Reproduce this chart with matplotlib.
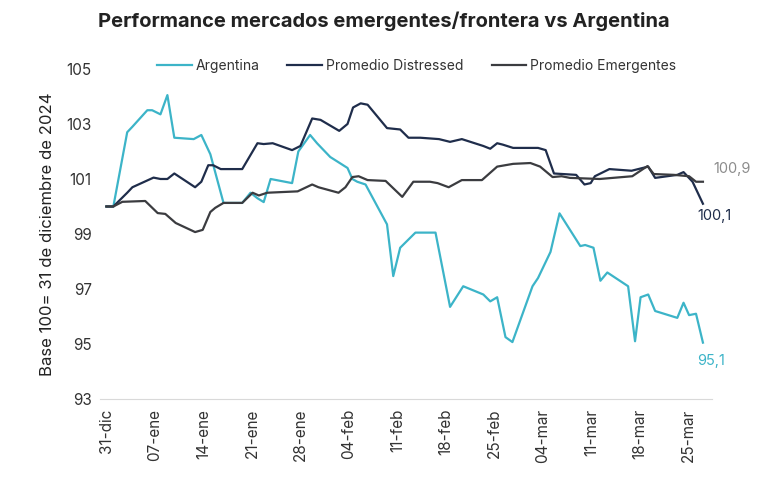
#performance chart: emergentes/frontera vs argentina

import matplotlib
matplotlib.use("Agg")
import matplotlib.pyplot as plt

plt.rcParams['font.family'] = ['Inter', 'DejaVu Sans']

# x = days since 31-dic-2024
arg_days = [0, 1.0, 3.0, 3.75, 5.9, 6.6, 7.8, 8.8, 9.8, 12.6, 13.7, 15.0, 16.9, 19.6, 20.8, 21.8,
            22.7, 23.7, 26.8, 27.7, 29.4, 30.4, 32.3, 34.8, 35.5, 36.2, 37.4, 40.5, 41.4, 42.4,
            44.6, 47.5, 49.6, 51.5, 54.4, 55.4, 56.4, 57.6, 58.6, 61.5, 62.3, 64.1, 65.4, 68.4,
            69.1, 70.3, 71.3, 72.3, 75.3, 76.3, 77.1, 78.2, 79.2, 82.4, 83.3, 84.1, 85.1, 86.1]
arg_vals = [100.0, 100.0, 102.7, 102.9, 103.5, 103.5, 103.35, 104.05, 102.5, 102.45, 102.6, 101.9,
            100.13, 100.13, 100.5, 100.3, 100.16, 101.0, 100.85, 102.0, 102.6, 102.3, 101.8, 101.4,
            101.0, 100.9, 100.8, 99.35, 97.47, 98.5, 99.05, 99.05, 96.35, 97.1, 96.8, 96.55, 96.7,
            95.25, 95.07, 97.1, 97.4, 98.35, 99.75, 98.56, 98.6, 98.5, 97.3, 97.6, 97.1, 95.1,
            96.7, 96.8, 96.2, 95.95, 96.5, 96.05, 96.1, 95.05]

dis_days = [0, 1.0, 3.0, 3.75, 6.8, 7.8, 8.8, 9.8, 12.8, 13.7, 14.7, 15.4, 16.5, 19.6, 21.8, 22.7,
            24.0, 26.8, 28.0, 29.7, 30.9, 33.6, 34.8, 35.6, 36.7, 37.7, 40.5, 42.4, 43.6, 45.3,
            48.0, 49.6, 51.3, 54.4, 55.4, 56.4, 57.2, 58.7, 62.3, 63.4, 64.6, 67.8, 69.0, 69.9,
            70.5, 72.6, 75.8, 78.2, 79.2, 82.4, 83.3, 84.6, 86.1]
dis_vals = [100.0, 100.0, 100.5, 100.7, 101.05, 101.0, 101.0, 101.2, 100.7, 100.9, 101.5, 101.5,
            101.36, 101.36, 102.3, 102.27, 102.3, 102.05, 102.2, 103.2, 103.15, 102.75, 103.0,
            103.6, 103.75, 103.7, 102.85, 102.8, 102.5, 102.5, 102.45, 102.35, 102.45, 102.2,
            102.1, 102.3, 102.25, 102.13, 102.13, 102.05, 101.2, 101.15, 100.8, 100.85, 101.1,
            101.36, 101.3, 101.45, 101.04, 101.15, 101.25, 100.9, 100.1]

eme_days = [0, 1.0, 2.3, 5.6, 7.4, 8.5, 10.0, 12.8, 13.9, 15.0, 15.7, 16.9, 19.6, 21.1, 22.0, 23.2,
            27.6, 29.7, 30.6, 33.5, 34.5, 35.5, 36.4, 37.7, 40.3, 42.7, 44.3, 46.7, 47.8, 49.4,
            51.3, 54.2, 56.4, 58.7, 61.2, 62.6, 64.4, 65.7, 66.9, 71.2, 75.9, 78.1, 79.0, 81.9,
            84.1, 85.1, 86.1]
eme_vals = [100.0, 100.0, 100.17, 100.2, 99.76, 99.73, 99.4, 99.07, 99.15, 99.8, 99.95, 100.13,
            100.13, 100.5, 100.4, 100.5, 100.55, 100.8, 100.7, 100.5, 100.7, 101.07, 101.1,
            100.96, 100.93, 100.35, 100.9, 100.9, 100.85, 100.7, 100.96, 100.96, 101.45, 101.55,
            101.58, 101.45, 101.07, 101.1, 101.04, 101.0, 101.1, 101.47, 101.18, 101.15, 101.1,
            100.9, 100.9]

tick_days = [0, 7, 14, 21, 28, 35, 42, 49, 56, 63, 70, 77, 84]
tick_labels = ["31-dic", "07-ene", "14-ene", "21-ene", "28-ene", "04-feb", "11-feb",
               "18-feb", "25-feb", "04-mar", "11-mar", "18-mar", "25-mar"]
y_ticks = [93, 95, 97, 99, 101, 103, 105]

c_arg = "#3cb4c8"
c_dis = "#1f2d4b"
c_eme = "#3b3c40"

fig = plt.figure(figsize=(7.59, 4.79), dpi=100)
ax = fig.add_axes([0.132, 0.167, 0.806, 0.689])

ax.plot(arg_days, arg_vals, color=c_arg, lw=1.6, label="Argentina")
ax.plot(dis_days, dis_vals, color=c_dis, lw=1.6, label="Promedio Distressed")
ax.plot(eme_days, eme_vals, color=c_eme, lw=1.6, label="Promedio Emergentes")

ax.set_xlim(-0.9, 87.4)
ax.set_ylim(93, 105)
ax.set_yticks(y_ticks)
ax.set_xticks(tick_days)
ax.set_xticklabels(tick_labels, rotation=90)
ax.tick_params(axis='both', length=0, labelsize=11, colors="#333333")
ax.tick_params(axis='y', pad=6)
ax.tick_params(axis='x', pad=7)

for s in ["top", "right", "left"]:
    ax.spines[s].set_visible(False)
ax.spines["bottom"].set_color("#d9d9d9")

ax.set_ylabel("Base 100= 31 de diciembre de 2024", fontsize=12, color="#222222", labelpad=8)

ax.annotate("100,9", (eme_days[-1], eme_vals[-1]), xytext=(10, 13), textcoords="offset pixels",
            color="#8c8c8c", fontsize=10.5, ha="left", va="center")
ax.annotate("100,1", (dis_days[-1], dis_vals[-1]), xytext=(-6, -12), textcoords="offset pixels",
            color=c_dis, fontsize=10.5, ha="left", va="center")
ax.annotate("95,1", (arg_days[-1], arg_vals[-1]), xytext=(-6, -18), textcoords="offset pixels",
            color=c_arg, fontsize=10.5, ha="left", va="center")

fig.legend(loc="center", bbox_to_anchor=(0.549, 0.863), ncol=3, frameon=False, fontsize=10,
           handlelength=2.5, handletextpad=0.3, columnspacing=2.0, labelcolor="#333333")

fig.suptitle("Performance mercados emergentes/frontera vs Argentina", x=0.506, y=0.975,
             fontsize=14.5, fontweight="bold", color="#222222")

fig.savefig("out.png", dpi=100)
